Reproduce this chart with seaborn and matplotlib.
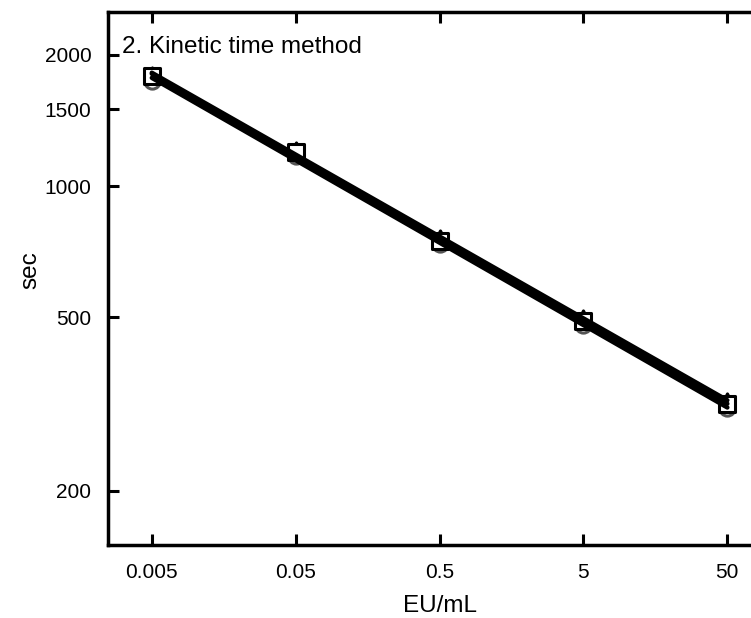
import matplotlib
matplotlib.use("Agg")
import matplotlib.pyplot as plt
from matplotlib.ticker import FixedLocator, FixedFormatter, NullLocator
import seaborn as sns
import pandas as pd
import numpy as np

conc = [0.005, 0.05, 0.5, 5, 50]
conc_labels = ["0.005", "0.05", "0.5", "5", "50"]
sec_circle = [1745, 1175, 736, 481, 309]
sec_square = [1785, 1200, 750, 490, 316]
sec_triangle = [1795, 1212, 759, 497, 322]
y_ticks = [200, 500, 1000, 1500, 2000]

sns.set_theme(style="ticks")
plt.rcParams['font.family'] = ['Liberation Sans', 'DejaVu Sans']
plt.rcParams['text.color'] = 'black'
plt.rcParams['axes.labelcolor'] = 'black'
plt.rcParams['xtick.color'] = 'black'
plt.rcParams['ytick.color'] = 'black'
plt.rcParams['axes.edgecolor'] = 'black'

rows = []
for name, vals in [("circle", sec_circle), ("square", sec_square), ("triangle", sec_triangle)]:
    for c, v in zip(conc, vals):
        rows.append({"conc": c, "sec": v, "series": name})
df = pd.DataFrame(rows)

fig = plt.figure(figsize=(7.51, 6.18), dpi=100)
ax = fig.add_axes([0.1438, 0.118, 1.027 - 0.1438, 0.9806 - 0.118])

styles = {
    "circle": dict(marker="o", edgecolor="#555555", facecolor="white"),
    "square": dict(marker="s", edgecolor="black", facecolor="white"),
    "triangle": dict(marker="^", edgecolor="black", facecolor="white"),
}
for name in ["circle", "triangle", "square"]:
    sub = df[df.series == name]
    st = styles[name]
    sns.scatterplot(data=sub, x="conc", y="sec", ax=ax, marker=st["marker"], s=120,
                    facecolor=st["facecolor"], edgecolor=st["edgecolor"], linewidth=2.2,
                    zorder=3, legend=False)

# log-log regression line per series
for name in ["circle", "square", "triangle"]:
    sub = df[df.series == name]
    lx = np.log10(sub["conc"].values)
    ly = np.log10(sub["sec"].values)
    b, a = np.polyfit(lx, ly, 1)
    fit = pd.DataFrame({"conc": sub["conc"].values, "sec": 10 ** (a + b * lx)})
    sns.lineplot(data=fit, x="conc", y="sec", ax=ax, color="black", linewidth=3.2,
                 zorder=4, legend=False)

ax.set_xscale("log")
ax.set_yscale("log")
ax.set_xlim(0.00248, 101)
ax.set_ylim(150, 2510)
ax.xaxis.set_major_locator(FixedLocator(conc))
ax.xaxis.set_major_formatter(FixedFormatter(conc_labels))
ax.xaxis.set_minor_locator(NullLocator())
ax.yaxis.set_major_locator(FixedLocator(y_ticks))
ax.yaxis.set_major_formatter(FixedFormatter([str(v) for v in y_ticks]))
ax.yaxis.set_minor_locator(NullLocator())

ax.tick_params(axis="both", direction="in", length=8, width=2.2, labelsize=15)
ax.tick_params(axis="y", pad=12)
ax.tick_params(axis="x", pad=13)
ax.tick_params(axis="x", top=True)
for s in ax.spines.values():
    s.set_linewidth(2.5)
ax.spines["right"].set_visible(False)

ax.set_xlabel("EU/mL", fontsize=17.5, labelpad=9)
ax.set_ylabel("sec", fontsize=17.5)
ax.yaxis.set_label_coords(-0.1, 0.515)
ax.text(0.021, 0.955, "2. Kinetic time method", transform=ax.transAxes,
        fontsize=17.5, va="top", ha="left")

fig.savefig("out.png", dpi=100)
